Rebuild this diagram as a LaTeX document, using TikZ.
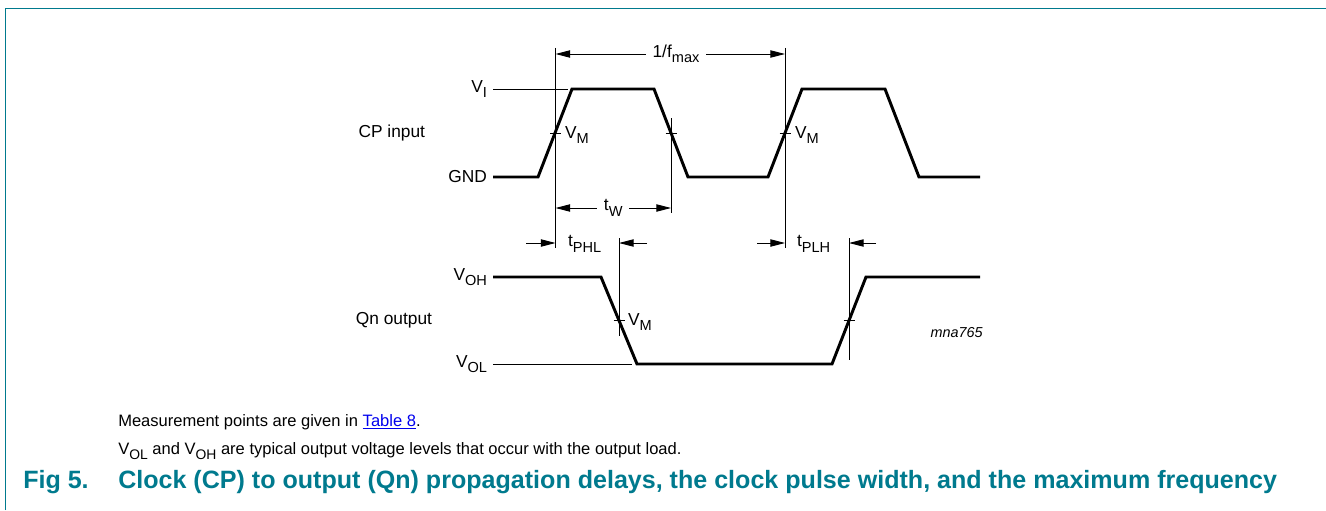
\documentclass[tikz,border=0pt]{standalone}
\usepackage{fontspec}
\setmainfont{Liberation Sans}
\usetikzlibrary{arrows.meta,positioning,calc}
\definecolor{FigTeal}{HTML}{007A8E}
\definecolor{FigInk}{HTML}{000000}
\definecolor{FigLink}{HTML}{0000EE}
\newcommand{\lowsub}[1]{\raisebox{-.32em}{\scalebox{.84}{#1}}}

\begin{document}
\begin{tikzpicture}[x=0.75pt,y=-0.75pt,
  wave/.style={draw=FigInk,line width=2.2pt,line join=miter},
  thinline/.style={draw=FigInk,line width=0.7pt},
  dimarrow/.style={thinline,{Triangle[length=11pt,width=5.5pt]}-{Triangle[length=11pt,width=5.5pt]}},
  inarrow/.style={thinline,-{Triangle[length=11pt,width=5.5pt]}},
  lbl/.style={font=\fontsize{13pt}{15pt}\selectfont,inner sep=0pt,outer sep=4.5pt},
  note/.style={font=\fontsize{12.4pt}{14pt}\selectfont,inner sep=0pt,anchor=west},
  capt/.style={font=\bfseries\fontsize{18.8pt}{21pt}\selectfont,text=FigTeal,inner sep=0pt,anchor=west}]
\useasboundingbox (0,0) rectangle (1326,510);
\draw[FigTeal,line width=1.1pt] (5.5,510) -- (5.5,8.5) -- (1326,8.5);

% level labels
\node[lbl,anchor=east] (vi) at (493,89) {V\lowsub{I}};
\node[lbl,anchor=east] (gnd) at (493,177) {GND};
\node[lbl,anchor=east] (cpin) at (431,133) {CP input};
\node[lbl,anchor=east] (voh) at (493,277) {V\lowsub{OH}};
\node[lbl,anchor=east] (vol) at (493,364) {V\lowsub{OL}};
\node[lbl,anchor=east] (qnout) at (438,320) {Qn output};

% CP input
\coordinate (vitop) at (568,89);
\draw[thinline] (vi.east) -- (vitop);
\draw[wave] (gnd.east) -- (538,177) -- (572,89) -- (654,89) -- (688,177)
  -- (768,177) -- (802,89) -- (885,89) -- (919,177) -- (980,177);

% Qn output
\coordinate (voltop) at (632,364);
\draw[thinline] (vol.east) -- (voltop);
\draw[wave] (voh.east) -- (601,277) -- (637,364) -- (832,364) -- (866,277) -- (980,277);

% V_M crossings
\coordinate (m1) at (555.5,133);
\coordinate (m2) at (671,133);
\coordinate (m3) at (785,133);
\coordinate (m4) at (619,320);
\coordinate (m5) at (849,320);
\foreach \p in {m1,m2,m3,m4,m5}
  \draw[thinline] ($(\p)+(-5.5,0)$) -- ($(\p)+(5.5,0)$);
\draw[thinline] (555.5,48) -- (555.5,248);
\draw[thinline] (671,118) -- (671,213);
\draw[thinline] (785,48) -- (785,248);
\draw[thinline] (619,238) -- (619,336);
\draw[thinline] (849,238) -- (849,360);
\node[lbl,anchor=west,outer sep=0pt] (vm1) at (565,135) {V\lowsub{M}};
\node[lbl,anchor=west,outer sep=0pt] (vm3) at (795,135) {V\lowsub{M}};
\node[lbl,anchor=west,outer sep=0pt] (vm4) at (628,322) {V\lowsub{M}};

% timing
\draw[dimarrow] (555.5,54) -- node[lbl,fill=white,inner xsep=5pt,inner ysep=2pt,outer sep=0pt,pos=.525] (fmax) {1/f\lowsub{max}} (785,54);
\draw[dimarrow] (555.5,208) -- node[lbl,fill=white,inner xsep=5pt,inner ysep=2pt,outer sep=0pt] (tw) {t\lowsub{W}} (671,208);
\draw[inarrow] (526,243) -- (555.5,243);
\draw[inarrow] (647,243) -- (619,243);
\node[lbl,anchor=west,outer sep=0pt] (tphl) at (568,244) {t\lowsub{PHL}};
\draw[inarrow] (757,243) -- (785,243);
\draw[inarrow] (876,243) -- (849,243);
\node[lbl,anchor=west,outer sep=0pt] (tplh) at (797,244) {t\lowsub{PLH}};

\node[font=\itshape\fontsize{10.8pt}{12pt}\selectfont,inner sep=0pt,anchor=east] (code) at (983,333) {mna765};

% notes and caption
\node[note] (note1) at (118,422) {Measurement points are given in \textcolor{FigLink}{\underline{Table 8}}.};
\node[note] (note2) at (118,451) {V\lowsub{OL} and V\lowsub{OH} are typical output voltage levels that occur with the output load.};
\node[capt] (fignum) at (23,482) {Fig 5.};
\node[capt] (figtitle) at (118,482) {Clock (CP) to output (Qn) propagation delays, the clock pulse width, and the maximum frequency};
\end{tikzpicture}
\end{document}
